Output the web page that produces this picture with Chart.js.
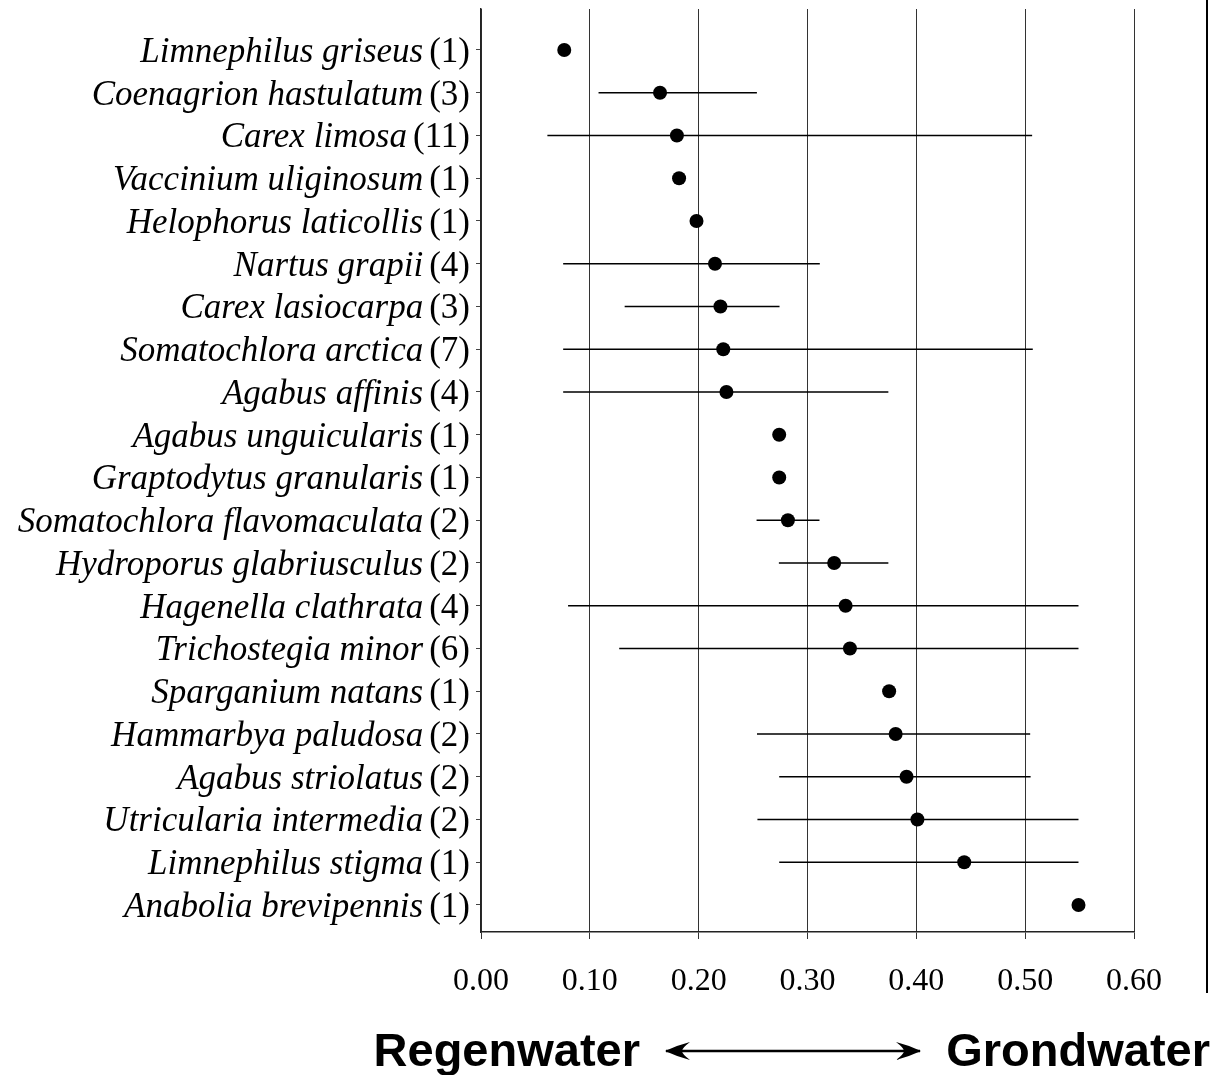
<!DOCTYPE html>
<html>
<head>
<meta charset="utf-8">
<script src="https://cdn.jsdelivr.net/npm/chart.js@4.4.1/dist/chart.umd.min.js"></script>
<style>
  html, body { margin: 0; padding: 0; background: #fff; }
  #wrap { position: relative; width: 1224px; height: 1075px; overflow: hidden; }
  #c { position: absolute; left: 0; top: 0; }
  .end { position: absolute; top: 1026px; font: bold 47px "Liberation Sans", Arial, sans-serif; line-height: 47px; color: #000; white-space: nowrap; }
  #rule { position: absolute; left: 1206px; top: 0; width: 2px; height: 993px; background: #000; }
  #arrow { position: absolute; left: 660px; top: 1036px; }
</style>
</head>
<body>
<div id="wrap">
  <canvas id="c" width="1224" height="1075"></canvas>
  <div id="rule"></div>
  <div class="end" style="right:584px">Regenwater</div>
  <svg id="arrow" width="266" height="30" viewBox="0 0 266 30">
    <line x1="6" y1="15" x2="260" y2="15" stroke="#000" stroke-width="2.5"/>
    <path d="M5 15 Q18 9 30 6 Q22 12 22 15 Q22 18 30 24 Q18 21 5 15 Z" fill="#000"/>
    <path d="M261 15 Q248 9 236 6 Q244 12 244 15 Q244 18 236 24 Q248 21 261 15 Z" fill="#000"/>
  </svg>
  <div class="end" style="right:14px">Grondwater</div>
</div>
<script>
// ---- data ----
const categories = [
  "Limnephilus griseus", "Coenagrion hastulatum", "Carex limosa", "Vaccinium uliginosum",
  "Helophorus laticollis", "Nartus grapii", "Carex lasiocarpa", "Somatochlora arctica",
  "Agabus affinis", "Agabus unguicularis", "Graptodytus granularis", "Somatochlora flavomaculata",
  "Hydroporus glabriusculus", "Hagenella clathrata", "Trichostegia minor", "Sparganium natans",
  "Hammarbya paludosa", "Agabus striolatus", "Utricularia intermedia", "Limnephilus stigma",
  "Anabolia brevipennis"
];
const counts = [1, 3, 11, 1, 1, 4, 3, 7, 4, 1, 1, 2, 2, 4, 6, 1, 2, 2, 2, 1, 1];
const means  = [0.0765, 0.1645, 0.180, 0.182, 0.198, 0.215, 0.220, 0.2226, 0.2255, 0.274, 0.274,
                0.282, 0.3245, 0.335, 0.339, 0.375, 0.381, 0.391, 0.401, 0.444, 0.549];
const lows   = [null, 0.108, 0.061, null, null, 0.0755, 0.132, 0.0755, 0.0755, null, null,
                0.2532, 0.2737, 0.080, 0.127, null, 0.2536, 0.274, 0.254, 0.274, null];
const highs  = [null, 0.2535, 0.5064, null, null, 0.3113, 0.2743, 0.507, 0.3743, null, null,
                0.311, 0.3743, 0.549, 0.549, null, 0.5046, 0.505, 0.549, 0.549, null];
const xTickValues = [0, 0.1, 0.2, 0.3, 0.4, 0.5, 0.6];
const xTickLabels = ["0.00", "0.10", "0.20", "0.30", "0.40", "0.50", "0.60"];

// ---- build datasets ----
const pointData = means.map((m, i) => ({ x: m, y: i }));
const barData = [];
lows.forEach((lo, i) => {
  if (lo !== null && highs[i] !== null) {
    barData.push({ x: lo, y: i }, { x: highs[i], y: i }, { x: highs[i], y: null });
  }
});

const LABEL_RIGHT = 470;
const labelFontSize = 35;
const GAP = 6;

const labelPlugin = {
  id: 'italicLabels',
  afterDraw(chart) {
    const ys = chart.scales.y;
    const ctx = chart.ctx;
    ctx.save();
    ctx.fillStyle = '#000';
    ctx.textBaseline = 'alphabetic';
    ctx.textAlign = 'left';
    categories.forEach((name, i) => {
      const y = ys.getPixelForValue(i) + 12;
      const cnt = '(' + counts[i] + ')';
      ctx.font = labelFontSize + 'px "Liberation Serif", "Times New Roman", serif';
      const wc = ctx.measureText(cnt).width;
      ctx.fillText(cnt, LABEL_RIGHT - wc, y);
      ctx.font = 'italic ' + labelFontSize + 'px "Liberation Serif", "Times New Roman", serif';
      const wn = ctx.measureText(name).width;
      ctx.fillText(name, LABEL_RIGHT - wc - GAP - wn, y);
    });
    ctx.restore();
  }
};

new Chart(document.getElementById('c'), {
  type: 'scatter',
  data: {
    datasets: [
      {
        label: 'mean',
        data: pointData,
        pointRadius: 7,
        pointHoverRadius: 7,
        pointBackgroundColor: '#000',
        pointBorderWidth: 0,
        showLine: false,
        order: 0
      },
      {
        label: 'range',
        data: barData,
        showLine: true,
        spanGaps: false,
        pointRadius: 0,
        borderColor: '#000',
        borderWidth: 1.6,
        order: 1
      }
    ]
  },
  options: {
    responsive: false,
    animation: false,
    events: [],
    layout: { padding: { top: 9, right: 90, left: 0, bottom: 0 } },
    plugins: { legend: { display: false }, tooltip: { enabled: false } },
    scales: {
      x: {
        type: 'linear',
        min: 0,
        max: 0.6,
        afterBuildTicks(scale) { scale.ticks = xTickValues.map(v => ({ value: v })); },
        afterFit(scale) { scale.height = 143; },
        ticks: {
          callback: (v) => { const k = xTickValues.findIndex(t => Math.abs(t - v) < 1e-9); return k >= 0 ? xTickLabels[k] : ''; },
          font: { family: '"Liberation Serif", "Times New Roman", serif', size: 32 },
          color: '#000',
          padding: 23,
          maxRotation: 0
        },
        grid: { color: '#333', lineWidth: 1, tickLength: 7, drawTicks: true },
        border: { display: true, color: '#222', width: 1.5 }
      },
      y: {
        type: 'linear',
        reverse: true,
        min: -0.959,
        max: 20.632,
        afterBuildTicks(scale) { scale.ticks = categories.map((_, i) => ({ value: i })); },
        afterFit(scale) { scale.width = 481; },
        ticks: { display: false },
        grid: { drawOnChartArea: false, drawTicks: true, tickLength: 5, color: '#444', lineWidth: 1 },
        border: { display: true, color: '#222', width: 1.5 }
      }
    }
  },
  plugins: [labelPlugin]
});
</script>
</body>
</html>
